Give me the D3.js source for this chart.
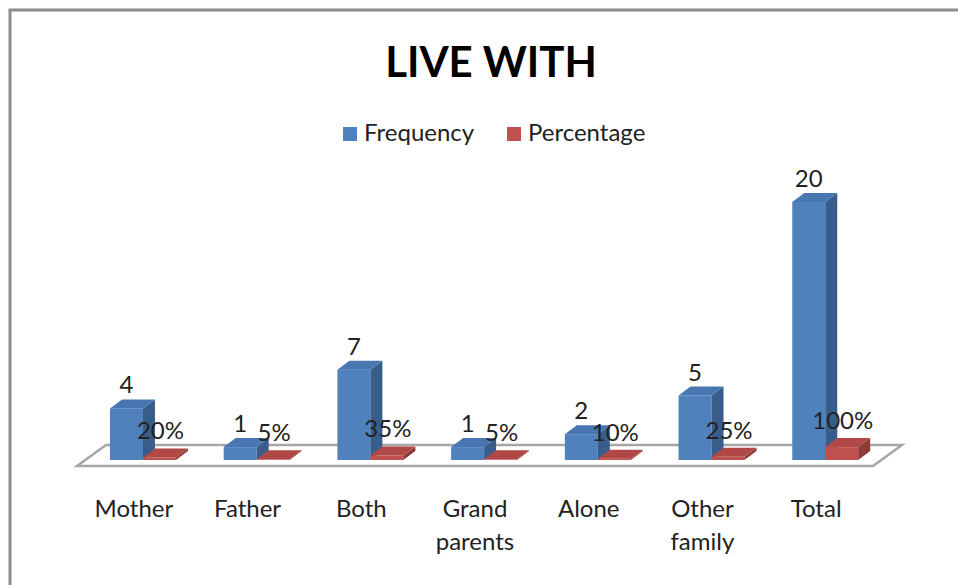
<!DOCTYPE html>
<html>
<head>
<meta charset="utf-8">
<script src="https://cdn.jsdelivr.net/npm/d3@7"></script>
<style>
  html, body { margin: 0; padding: 0; background: #fff; }
  svg { display: block; font-family: Lato, "Open Sans", sans-serif; }
</style>
</head>
<body>
<svg id="chart" width="958" height="585"></svg>
<script>
const title = "LIVE WITH";
const categories = ["Mother", "Father", "Both", "Grand parents", "Alone", "Other family", "Total"];
const frequency = [4, 1, 7, 1, 2, 5, 20];
const percentage = [0.20, 0.05, 0.35, 0.05, 0.10, 0.25, 1.00];
const percentLabels = ["20%", "5%", "35%", "5%", "10%", "25%", "100%"];
const seriesNames = ["Frequency", "Percentage"];

const svg = d3.select("#chart");
const W = 958, H = 585;

// outer frame (only top & left edges visible)
svg.append("path")
  .attr("d", `M10,${H + 5} L10,10 L${W + 5},10`)
  .attr("fill", "none").attr("stroke", "#8c8c8c").attr("stroke-width", 3);

// title
svg.append("text")
  .attr("x", 491).attr("y", 77)
  .attr("text-anchor", "middle")
  .attr("font-size", 42).attr("font-weight", "bold").attr("fill", "#000")
  .text(title);

// legend
const legendColors = ["#4F81BD", "#C0504D"];
const legendX = [343, 507];
seriesNames.forEach((n, i) => {
  svg.append("rect").attr("x", legendX[i]).attr("y", 127).attr("width", 14).attr("height", 14)
    .attr("fill", legendColors[i]);
  svg.append("text").attr("x", legendX[i] + 21).attr("y", 141)
    .attr("font-size", 24).attr("fill", "#222").text(n);
});

// scales
const x = d3.scaleBand().domain(categories).range([77, 873]).paddingInner(0).paddingOuter(0);
const y = d3.scaleLinear().domain([0, 20]).range([460, 202]);
const bw = x.bandwidth();
const dx = 12, dy = -9;

// floor
const fy = 466, by = 445, fdx = 29;
svg.append("polygon")
  .attr("points", [[77, fy], [873, fy], [873 + fdx, by], [77 + fdx, by]].map(p => p.join(",")).join(" "))
  .attr("fill", "#fff").attr("stroke", "#a6a6a6").attr("stroke-width", 2.5);

function bar3d(g, x0, w, yTop, yBot, c) {
  g.append("rect").attr("x", x0).attr("y", yTop).attr("width", w).attr("height", yBot - yTop).attr("fill", c.front);
  g.append("polygon").attr("points",
    [[x0 + w, yBot], [x0 + w + dx, yBot + dy], [x0 + w + dx, yTop + dy], [x0 + w, yTop]].map(p => p.join(",")).join(" "))
    .attr("fill", c.side);
  g.append("polygon").attr("points",
    [[x0, yTop], [x0 + w, yTop], [x0 + w + dx, yTop + dy], [x0 + dx, yTop + dy]].map(p => p.join(",")).join(" "))
    .attr("fill", c.top);
}

const blue = { front: "#4F81BD", side: "#385D8A", top: "#4876B0" };
const red = { front: "#C0504D", side: "#8E3A38", top: "#B04845" };

const bars = svg.append("g");
categories.forEach((c, i) => {
  const bx = x(c) + bw * 0.29, w = bw * 0.29;
  bar3d(bars, bx, w, y(frequency[i]), y(0), blue);
  const rx = bx + w;
  bar3d(bars, rx, w, y(percentage[i]), y(0), red);
});

// data labels
const labels = svg.append("g").attr("font-size", 24).attr("fill", "#222").attr("text-anchor", "middle");
categories.forEach((c, i) => {
  const bx = x(c) + bw * 0.29, w = bw * 0.29;
  labels.append("text").attr("x", bx + w / 2).attr("y", y(frequency[i]) - 15).text(frequency[i]);
  labels.append("text").attr("x", bx + w * 1.5 + 1).attr("y", y(percentage[i]) - 18).text(percentLabels[i]);
});

// category labels
const cats = svg.append("g").attr("font-size", 24).attr("fill", "#222").attr("text-anchor", "middle");
categories.forEach(c => {
  const lines = c.split(" ");
  const t = cats.append("text").attr("x", x(c) + bw / 2).attr("y", 517);
  lines.forEach((l, j) => {
    t.append("tspan").attr("x", x(c) + bw / 2).attr("dy", j === 0 ? 0 : 33).text(l);
  });
});
</script>
</body>
</html>
